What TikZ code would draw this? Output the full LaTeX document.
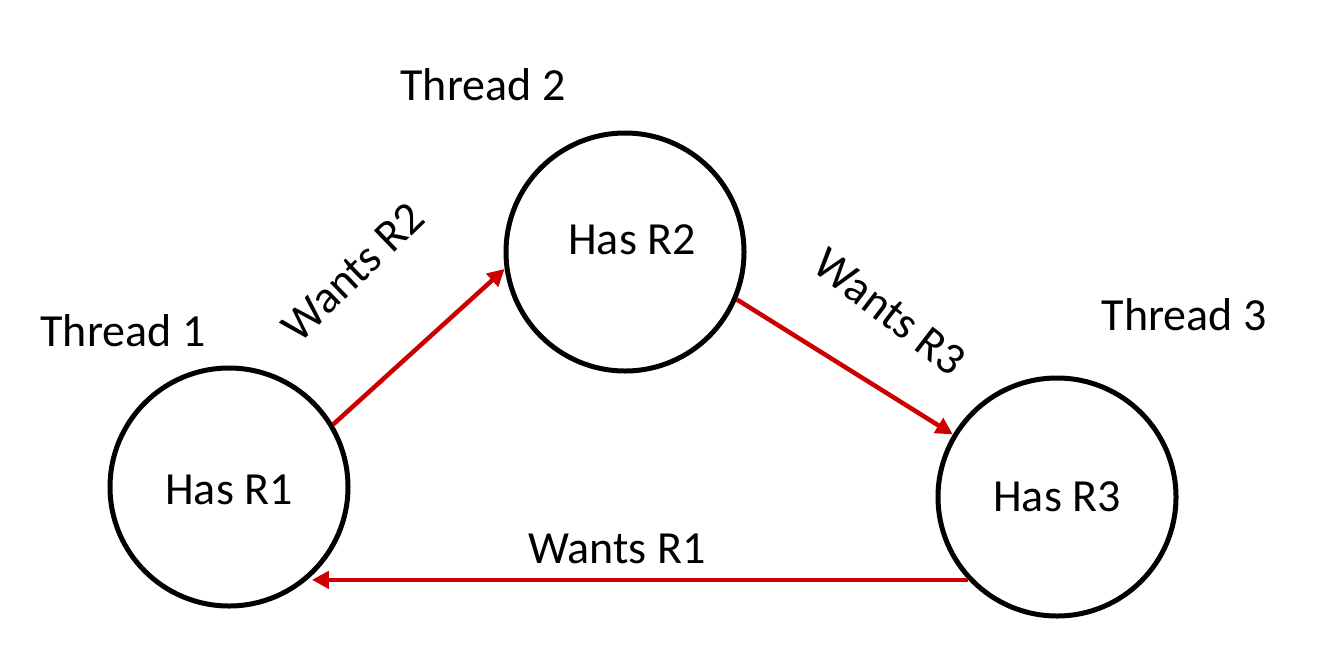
\documentclass[tikz,border=0pt]{standalone}
\usepackage{fontspec}
\setmainfont{Carlito}
\usetikzlibrary{arrows.meta}
\definecolor{arrowred}{RGB}{204,0,0}
\begin{document}
\begin{tikzpicture}[x=1pt,y=-1pt,
  thread/.style={circle,draw=black,line width=5pt,minimum size=238pt,inner sep=0pt},
  lbl/.style={font=\fontsize{46}{55}\selectfont,inner sep=0pt},
  want/.style={draw=arrowred,line width=4.5pt,-{Triangle[length=17pt,width=17pt]}}]
\useasboundingbox (0,0) rectangle (1324,664);
\node[thread] (c1) at (229,487) {};
\node[thread] (c2) at (625,252) {};
\node[thread] (c3) at (1057,497) {};
\node[lbl] (h1) at (229,490) {Has R1};
\node[lbl] (h2) at (632,240) {Has R2};
\node[lbl] (h3) at (1057,497) {Has R3};
\node[lbl] (t1) at (123,331) {Thread 1};
\node[lbl] (t2) at (483,85) {Thread 2};
\node[lbl] (t3) at (1184,315) {Thread 3};
\draw[want] (c1.31.5) -- (c2.188);
\draw[want] (c2.-23) -- (c3.149);
\draw[want] (c3.223.6) -- (c3.223.6 -| c1.-47.3);
\node[lbl,rotate=44] (w2) at (353,272) {Wants R2};
\node[lbl,rotate=-37.5] (w3) at (890,312) {Wants R3};
\node[lbl] (w1) at (617,549) {Wants R1};
\end{tikzpicture}
\end{document}
